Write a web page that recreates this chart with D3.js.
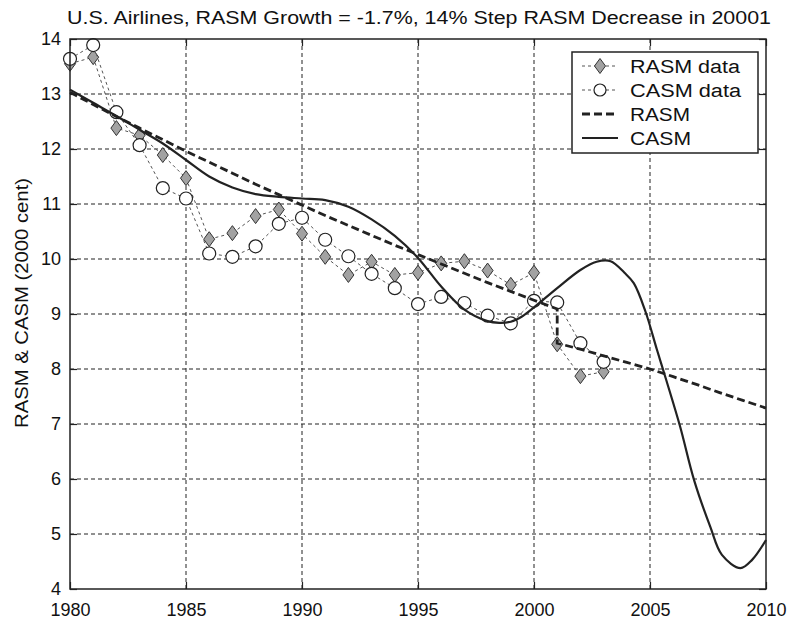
<!DOCTYPE html>
<html><head><meta charset="utf-8">
<script src="https://cdn.jsdelivr.net/npm/d3@7"></script>
<style>
body{margin:0;background:#fff;}
text{font-family:"Liberation Sans",Arial,Helvetica,sans-serif;fill:#111;}
</style>
</head><body>
<svg id="chart" width="793" height="622"></svg>
<script>
// ---- data ----
const dataYears = [1980,1981,1982,1983,1984,1985,1986,1987,1988,1989,1990,1991,1992,1993,1994,1995,1996,1997,1998,1999,2000,2001,2002,2003];
const rasmData = [13.55,13.67,12.38,12.25,11.89,11.47,10.36,10.47,10.78,10.90,10.46,10.04,9.71,9.95,9.71,9.75,9.92,9.96,9.79,9.53,9.75,8.45,7.87,7.95];
const casmData = [13.64,13.89,12.67,12.07,11.29,11.10,10.10,10.04,10.23,10.64,10.75,10.35,10.05,9.73,9.47,9.18,9.31,9.20,8.97,8.83,9.24,9.21,8.47,8.13];

const rasmFitYears  = [1980,1981,1982,1983,1984,1985,1986,1987,1988,1989,1990,1991,1992,1993,1994,1995,1996,1997,1998,1999,2000,2001,2001,2002,2003,2004,2005,2006,2007,2008,2009,2010];
const rasmFitValues = [13.03,12.81,12.59,12.38,12.17,11.96,11.76,11.56,11.36,11.17,10.98,10.79,10.61,10.43,10.25,10.08,9.91,9.74,9.57,9.41,9.25,9.09,8.47,8.36,8.24,8.12,8.00,7.86,7.72,7.57,7.43,7.29];

const casmFitYears  = [1980,1981,1982,1983,1984,1985,1986,1987,1988,1989,1990,1991,1992,1993,1994,1995,1996,1997,1998,1998.5,1999,1999.5,2000,2001,2002,2002.7,2003.3,2003.9,2004.3,2004.8,2005.3,2005.7,2006.3,2006.9,2007.6,2008.1,2008.9,2009.4,2010];
const casmFitValues = [13.08,12.84,12.60,12.35,12.10,11.80,11.50,11.30,11.18,11.13,11.10,11.07,10.95,10.72,10.42,10.02,9.50,9.08,8.87,8.84,8.86,8.96,9.12,9.47,9.80,9.95,9.96,9.75,9.56,9.05,8.35,7.80,6.95,5.98,5.13,4.62,4.38,4.53,4.89];

const xTickValues = [1980,1985,1990,1995,2000,2005,2010];
const yTickValues = [4,5,6,7,8,9,10,11,12,13,14];
const titleText = "U.S. Airlines, RASM Growth = -1.7%, 14% Step RASM Decrease in 20001";
const yLabelText = "RASM & CASM (2000 cent)";
const legendLabels = ["RASM data","CASM data","RASM","CASM"];

// ---- layout ----
const L = 70, R = 766, T = 39, B = 589;
const svg = d3.select("#chart");
const x = d3.scaleLinear().domain([1980,2010]).range([L,R]);
const y = d3.scaleLinear().domain([4,14]).range([B,T]);

// marker shape: diamond (half-width 5.5, half-height 7.5)
const diamondShape = { draw(ctx){ ctx.moveTo(0,-7.5); ctx.lineTo(5.5,0); ctx.lineTo(0,7.5); ctx.lineTo(-5.5,0); ctx.closePath(); } };
const diamondPath = d3.symbol().type(diamondShape)();

// grid
const grid = svg.append("g").attr("stroke","#222").attr("stroke-width",1).attr("stroke-dasharray","4,3");
grid.selectAll("line.v").data(xTickValues.slice(1,-1)).join("line")
  .attr("x1",d=>x(d)).attr("x2",d=>x(d)).attr("y1",T).attr("y2",B);
grid.selectAll("line.h").data(yTickValues.slice(1,-1)).join("line")
  .attr("x1",L).attr("x2",R).attr("y1",d=>y(d)).attr("y2",d=>y(d));

// axes (ticks inward, MATLAB style)
svg.append("g").attr("transform",`translate(0,${B})`)
  .call(d3.axisBottom(x).tickValues(xTickValues).tickFormat(d3.format("d")).tickSizeInner(-7).tickSizeOuter(0).tickPadding(14));
svg.append("g").attr("transform",`translate(${L},0)`)
  .call(d3.axisLeft(y).tickValues(yTickValues).tickFormat(d3.format("d")).tickSizeInner(-7).tickSizeOuter(0).tickPadding(9));
svg.append("g").attr("transform",`translate(0,${T})`)
  .call(d3.axisTop(x).tickValues(xTickValues).tickFormat("").tickSizeInner(-7).tickSizeOuter(0));
svg.append("g").attr("transform",`translate(${R},0)`)
  .call(d3.axisRight(y).tickValues(yTickValues).tickFormat("").tickSizeInner(-7).tickSizeOuter(0));
svg.selectAll(".domain").remove();
svg.selectAll(".tick line").attr("stroke","#222").attr("stroke-width",1.2);
svg.selectAll(".tick text").attr("font-size",18).attr("font-family","Liberation Sans, Arial, sans-serif").attr("fill","#111");

// data lines
const line = d3.line().x(d=>x(d[0])).y(d=>y(d[1]));
const rasmPts = dataYears.map((d,i)=>[d,rasmData[i]]);
const casmPts = dataYears.map((d,i)=>[d,casmData[i]]);
svg.append("path").attr("d",line(rasmPts)).attr("fill","none").attr("stroke","#555").attr("stroke-width",1).attr("stroke-dasharray","3,3");
svg.selectAll("path.dia").data(rasmPts).join("path")
  .attr("d",diamondPath)
  .attr("transform",d=>`translate(${x(d[0])},${y(d[1])})`)
  .attr("fill","#a2a2a2").attr("stroke","#333").attr("stroke-width",1);
svg.append("path").attr("d",line(casmPts)).attr("fill","none").attr("stroke","#555").attr("stroke-width",1).attr("stroke-dasharray","3,3");
svg.selectAll("circle.c").data(casmPts).join("circle")
  .attr("cx",d=>x(d[0])).attr("cy",d=>y(d[1])).attr("r",6.5)
  .attr("fill","#fff").attr("stroke","#222").attr("stroke-width",1.2);

// fitted lines
const rasmFit = rasmFitYears.map((d,i)=>[d,rasmFitValues[i]]);
svg.append("path").attr("d",line(rasmFit)).attr("fill","none").attr("stroke","#222").attr("stroke-width",2.8).attr("stroke-dasharray","8,4");
const casmFit = casmFitYears.map((d,i)=>[d,casmFitValues[i]]);
svg.append("path").attr("d",d3.line().x(d=>x(d[0])).y(d=>y(d[1])).curve(d3.curveCatmullRom)(casmFit))
  .attr("fill","none").attr("stroke","#222").attr("stroke-width",2.2);

// frame
svg.append("rect").attr("x",L).attr("y",T).attr("width",R-L).attr("height",B-T)
  .attr("fill","none").attr("stroke","#222").attr("stroke-width",1.5);

// title
svg.append("text").attr("x",67).attr("y",24).attr("font-size",18)
  .attr("textLength",704).attr("lengthAdjust","spacingAndGlyphs").text(titleText);
// y label
svg.append("text").attr("transform","translate(28,303) rotate(-90)").attr("text-anchor","middle")
  .attr("font-size",18).attr("textLength",250).attr("lengthAdjust","spacingAndGlyphs").text(yLabelText);

// legend
const lg = svg.append("g");
lg.append("rect").attr("x",572).attr("y",52).attr("width",186).attr("height",101)
  .attr("fill","#fff").attr("stroke","#222").attr("stroke-width",1.5);
const rowsY = [66,90,114,138];
const textW = [110,111,60,61];
legendLabels.forEach((lab,i)=>{
  const yy = rowsY[i];
  const ln = lg.append("line").attr("x1",582).attr("x2",618).attr("y1",yy).attr("y2",yy).attr("stroke","#222");
  if(i<2){ ln.attr("stroke","#555").attr("stroke-width",1).attr("stroke-dasharray","3,3"); }
  if(i===2){ ln.attr("stroke-width",2.8).attr("stroke-dasharray","8,4"); }
  if(i===3){ ln.attr("stroke-width",2.2); }
  if(i===0){
    lg.append("path").attr("d",diamondPath)
      .attr("transform",`translate(600,${yy})`).attr("fill","#a2a2a2").attr("stroke","#333");
  }
  if(i===1){
    lg.append("circle").attr("cx",600).attr("cy",yy).attr("r",6).attr("fill","#fff").attr("stroke","#222").attr("stroke-width",1.2);
  }
  lg.append("text").attr("x",630).attr("y",yy+7).attr("font-size",18)
    .attr("textLength",textW[i]).attr("lengthAdjust","spacingAndGlyphs").text(lab);
});
</script>
</body></html>
